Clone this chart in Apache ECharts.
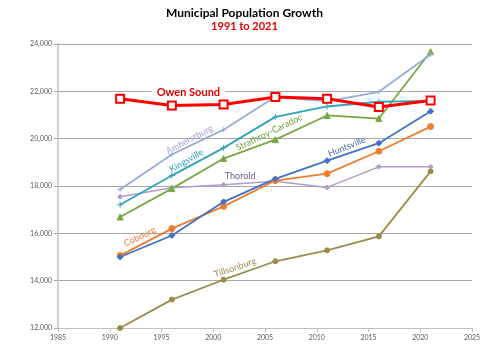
<!DOCTYPE html>
<html>
<head>
<meta charset="utf-8">
<script src="https://cdn.jsdelivr.net/npm/echarts@6/dist/echarts.min.js"></script>
<style>
  html, body { margin: 0; padding: 0; background: #fff; }
  #chart { width: 489px; height: 353px; }
</style>
</head>
<body>
<div id="chart"></div>
<script>
// census years
var years = [1991, 1996, 2001, 2006, 2011, 2016, 2021];

// population per municipality
var owenSound   = [21690, 21400, 21440, 21760, 21690, 21340, 21610];
var amherstburg = [17850, 19330, 20380, 21770, 21580, 21980, 23560];
var kingsville  = [17210, 18440, 19610, 20920, 21360, 21560, 21600];
var strathroy   = [16690, 17890, 19160, 19960, 20980, 20850, 23670];
var huntsville  = [15000, 15910, 17330, 18300, 19070, 19810, 21160];
var cobourg     = [15060, 16200, 17140, 18230, 18520, 19470, 20510];
var thorold     = [17550, 17930, 18050, 18200, 17940, 18810, 18810];
var tillsonburg = [12000, 13200, 14040, 14820, 15280, 15870, 18620];

var yTicks = [12000, 14000, 16000, 18000, 20000, 22000, 24000];
var xTicks = [1985, 1990, 1995, 2000, 2005, 2010, 2015, 2020, 2025];

function pairs(arr) {
  return years.map(function (y, i) { return [y, arr[i]]; });
}

var crossPath = 'path://M0,5L10,5M5,0L5,10';

function line(name, data, color, width, symbol, size, extra) {
  var s = {
    name: name,
    type: 'line',
    data: pairs(data),
    symbol: symbol,
    symbolSize: size,
    showSymbol: symbol !== 'none',
    lineStyle: { color: color, width: width },
    itemStyle: { color: color, borderColor: color },
    emphasis: { disabled: true },
    animation: false
  };
  if (extra) Object.assign(s, extra);
  return s;
}

var chart = echarts.init(document.getElementById('chart'));
var option = {
  backgroundColor: '#ffffff',
  textStyle: { fontFamily: 'Lato, sans-serif' },
  title: {
    text: 'Municipal Population Growth',
    subtext: '1991 to 2021',
    left: 'center',
    top: 2,
    itemGap: 2,
    textStyle: { fontFamily: 'Lato, sans-serif', fontSize: 12, fontWeight: 'bold', color: '#000' },
    subtextStyle: { fontFamily: 'Lato, sans-serif', fontSize: 11, fontWeight: 'bold', color: '#e00000' }
  },
  grid: { left: 58, right: 17, top: 44, bottom: 25 },
  xAxis: {
    type: 'value',
    min: xTicks[0],
    max: xTicks[xTicks.length - 1],
    interval: 5,
    axisLine: { show: true, lineStyle: { color: '#bfbfbf', width: 1 } },
    axisTick: { show: true, length: 4, lineStyle: { color: '#bfbfbf' } },
    splitLine: { show: false },
    axisLabel: { fontSize: 7, color: '#595959', margin: 6, formatter: function (v) { return String(v); } }
  },
  yAxis: {
    type: 'value',
    min: yTicks[0],
    max: yTicks[yTicks.length - 1],
    interval: 2000,
    axisLine: { show: true, lineStyle: { color: '#d0d0d0', width: 2 } },
    axisTick: { show: true, length: 4, lineStyle: { color: '#a6a6a6' } },
    splitLine: { show: true, lineStyle: { color: '#a6a6a6', width: 1 } },
    axisLabel: {
      fontSize: 7, color: '#595959', margin: 6,
      formatter: function (v) { return v.toLocaleString('en-US'); }
    }
  },
  series: [
    line('Tillsonburg', tillsonburg, '#9a8c4b', 1.8, 'circle', 5),
    line('Thorold', thorold, '#b29ccb', 1.5, 'diamond', 5),
    line('Cobourg', cobourg, '#ed7d31', 1.8, 'circle', 6),
    line('Huntsville', huntsville, '#4472c4', 1.8, 'diamond', 6),
    line('Strathroy-Caradoc', strathroy, '#78a843', 1.8, 'triangle', 6),
    line('Kingsville', kingsville, '#34a3b8', 1.8, crossPath, 6,
      { itemStyle: { color: 'none', borderColor: '#34a3b8', borderWidth: 1 } }),
    line('Amherstburg', amherstburg, '#95aed8', 1.8, crossPath, 5,
      { itemStyle: { color: 'none', borderColor: '#95aed8', borderWidth: 1 } }),
    line('Owen Sound', owenSound, '#ff0000', 3, 'rect', 8,
      { itemStyle: { color: '#ffffff', borderColor: '#ff0000', borderWidth: 2 } })
  ]
};
chart.setOption(option);

// series name labels, anchored in data coordinates
var labels = [
  { text: 'Owen Sound', at: [1997.6, 21950], rot: 0, color: '#e00000', size: 11, bold: true },
  { text: 'Amherstburg', at: [1997.7, 19960], rot: 28, color: '#a89bd0', size: 9 },
  { text: 'Kingsville', at: [1997.4, 19070], rot: 30, color: '#2a9cb2', size: 9 },
  { text: 'Strathroy-Caradoc', at: [2005.4, 20260], rot: 26, color: '#6f9e3a', size: 9 },
  { text: 'Thorold', at: [2002.6, 18400], rot: 0, color: '#6a5a8c', size: 9 },
  { text: 'Huntsville', at: [2012.9, 19660], rot: 22, color: '#4a6aa8', size: 9 },
  { text: 'Cobourg', at: [1992.9, 15860], rot: 26, color: '#ed7d31', size: 9 },
  { text: 'Tillsonburg', at: [2002.1, 14550], rot: 19, color: '#9a8c4b', size: 9 }
];

chart.setOption({
  graphic: labels.map(function (l) {
    var p = chart.convertToPixel({ gridIndex: 0 }, l.at);
    return {
      type: 'text',
      x: p[0],
      y: p[1],
      rotation: l.rot * Math.PI / 180,
      z: 100,
      style: {
        text: l.text,
        fill: l.color,
        font: (l.bold ? 'bold ' : '') + l.size + 'px Lato, sans-serif',
        textAlign: 'center',
        textVerticalAlign: 'middle',
        backgroundColor: l.bold ? '#ffffff' : null,
        padding: l.bold ? [0, 5] : 0
      }
    };
  })
});
</script>
</body>
</html>
